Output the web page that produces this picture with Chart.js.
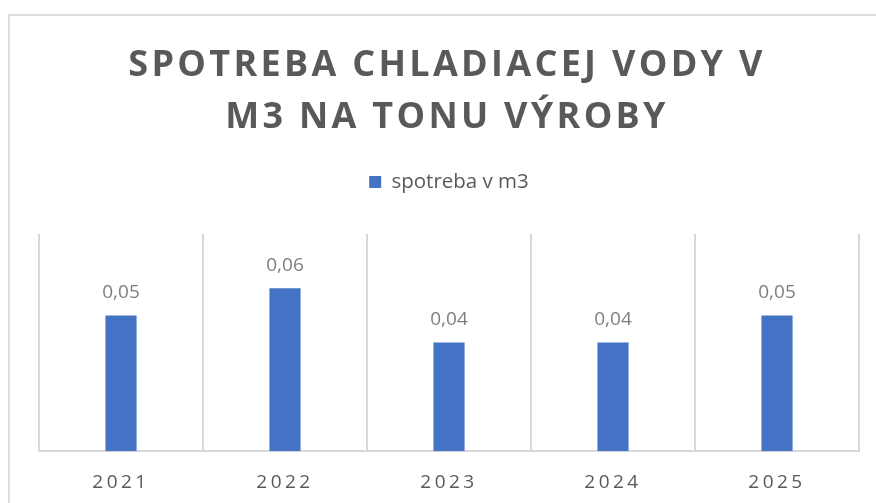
<!DOCTYPE html>
<html>
<head>
<meta charset="utf-8">
<script src="https://cdn.jsdelivr.net/npm/chart.js@4.4.1/dist/chart.umd.min.js"></script>
<style>
  html, body { margin: 0; padding: 0; background: #fff; overflow: hidden; }
  #frame { position: absolute; left: 8px; top: 14px; width: 874px; height: 513px; border: 2px solid #dedede; }
  #frame canvas { display: block; }
</style>
</head>
<body>
<div id="frame"><canvas id="chart" width="874" height="505"></canvas></div>
<script>
// chart data
const years = ['2021', '2022', '2023', '2024', '2025'];
const usage = [0.05, 0.06, 0.04, 0.04, 0.05];
const seriesName = 'spotreba v m3';
const titleLines = ['SPOTREBA CHLADIACEJ VODY V', 'M3 NA TONU VÝROBY'];

const grey = '#595959';
const gridGrey = '#d9d9d9';

// value labels above bars, spaced year ticks and the spaced-out title
const textBits = {
  id: 'textBits',
  beforeDraw(chart) { chart.ctx.letterSpacing = '0px'; },
  afterDatasetsDraw(chart) {
    const ctx = chart.ctx;
    const meta = chart.getDatasetMeta(0);
    ctx.save();
    ctx.font = '19px "Open Sans"';
    ctx.fillStyle = '#7f7f7f';
    ctx.textAlign = 'center';
    ctx.textBaseline = 'middle';
    meta.data.forEach((bar, i) => {
      ctx.fillText(usage[i].toFixed(2).replace('.', ','), bar.x, bar.y - 23);
    });
    ctx.restore();
    // x tick labels (z:1) get drawn after this, letter spaced
    ctx.letterSpacing = '3.5px';
  },
  afterDraw(chart) {
    const ctx = chart.ctx;
    ctx.letterSpacing = '0px';
    ctx.save();
    ctx.letterSpacing = '3.3px';
    ctx.font = 'bold 36px "Open Sans"';
    ctx.fillStyle = grey;
    ctx.textAlign = 'center';
    ctx.textBaseline = 'alphabetic';
    ctx.fillText(titleLines[0], chart.width / 2, 60);
    ctx.fillText(titleLines[1], chart.width / 2, 112);
    ctx.restore();
  }
};

window.addEventListener('load', () => {
  const ctx = document.getElementById('chart').getContext('2d');
  new Chart(ctx, {
    type: 'bar',
    data: {
      labels: years,
      datasets: [{
        label: seriesName,
        data: usage,
        backgroundColor: '#4472c4',
        categoryPercentage: 1,
        barPercentage: 0.19
      }]
    },
    options: {
      responsive: false,
      animation: false,
      layout: { padding: { top: 145.75, left: 29, right: 25, bottom: 7 } },
      scales: {
        x: {
          offset: true,
          grid: { offset: true, color: gridGrey, lineWidth: 2, drawTicks: false },
          border: { color: gridGrey, width: 2 },
          ticks: { z: 1, color: grey, padding: 20, maxRotation: 0, font: { family: 'Open Sans', size: 19 } }
        },
        y: { display: false, min: 0, max: 0.08 }
      },
      plugins: {
        legend: {
          position: 'top',
          weight: 2000,
          labels: {
            boxWidth: 12, boxHeight: 12, padding: 10,
            color: grey,
            font: { family: 'Open Sans', size: 20.5 }
          }
        },
        // empty subtitle only keeps the gap between legend and plot
        subtitle: { display: true, text: '', font: { size: 10, lineHeight: 1.2 }, padding: { top: 0, bottom: 19.75 } },
        tooltip: { enabled: false }
      }
    },
    plugins: [textBits]
  });
});
</script>
</body>
</html>
